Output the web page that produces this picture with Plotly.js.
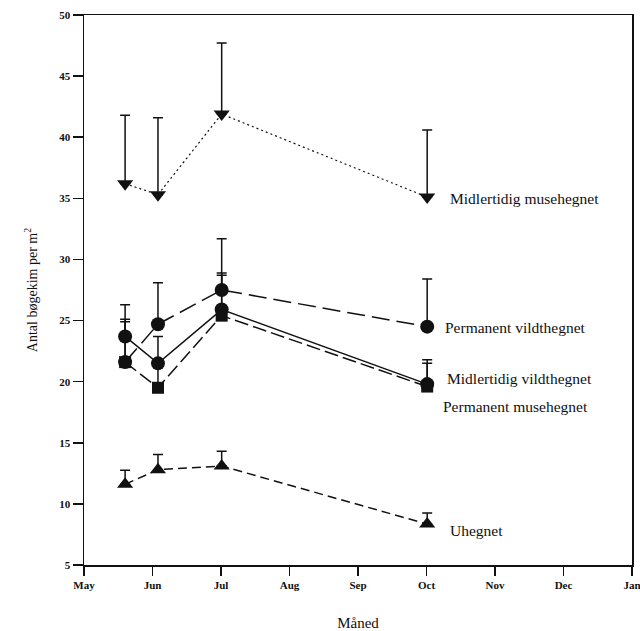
<!DOCTYPE html>
<html>
<head>
<meta charset="utf-8">
<script src="https://cdn.plot.ly/plotly-3.0.1.min.js"></script>
<style>
  html, body { margin: 0; padding: 0; background: #fff; }
  #chart { width: 640px; height: 631px; }
</style>
</head>
<body>
<div id="chart"></div>
<script>
// Month axis: 0 = May ... 8 = January
const monthLabels = ['May', 'Jun', 'Jul', 'Aug', 'Sep', 'Oct', 'Nov', 'Dec', 'Jan'];
const sampleMonth = [0.6, 1.08, 2.01, 5.01];

// Mean seedling counts per m² and upper standard error for each enclosure type
const midlMuse = [36.2, 35.3, 41.9, 35.1];
const midlMuseErr = [5.6, 6.3, 5.8, 5.5];

const permVildt = [21.6, 24.7, 27.5, 24.5];
const permVildtErr = [3.5, 3.4, 4.2, 3.9];

const midlVildt = [23.7, 21.5, 25.9, 19.8];
const midlVildtErr = [2.6, 2.2, 3.0, 2.0];

const permMuse = [21.6, 19.5, 25.4, 19.6];
const permMuseErr = [3.3, 2.0, 3.3, 1.9];

const uhegnet = [11.6, 12.8, 13.1, 8.35];
const uhegnetErr = [1.15, 1.25, 1.2, 0.9];

const seriesNames = [
  'Midlertidig musehegnet',
  'Permanent vildthegnet',
  'Midlertidig vildthegnet',
  'Permanent musehegnet',
  'Uhegnet'
];

const ink = '#111';
const serif = '"Liberation Serif", "Times New Roman", serif';

function series(name, y, err, symbol, size, dash, width) {
  return {
    type: 'scatter',
    mode: 'lines+markers',
    name: name,
    x: sampleMonth,
    y: y,
    line: { color: ink, width: width, dash: dash },
    marker: { symbol: symbol, size: size, color: ink, line: { width: 0 } },
    error_y: {
      type: 'data',
      symmetric: false,
      array: err,
      arrayminus: err.map(() => 0),
      color: ink,
      thickness: 1.5,
      width: 5
    },
    hoverinfo: 'x+y+name'
  };
}

const traces = [
  series(seriesNames[0], midlMuse, midlMuseErr, 'triangle-down', 14, '2px,3px', 1.2),
  series(seriesNames[1], permVildt, permVildtErr, 'circle', 14, '18px,7px', 1.5),
  series(seriesNames[2], midlVildt, midlVildtErr, 'circle', 14, 'solid', 1.5),
  series(seriesNames[3], permMuse, permMuseErr, 'square', 12, '14px,5px', 1.5),
  series(seriesNames[4], uhegnet, uhegnetErr, 'triangle-up', 14, '9px,5px', 1.5)
];

// Series labels placed to the right of the October points
const labelPos = [
  { x: 5.31, y: 34.95 },
  { x: 5.24, y: 24.4 },
  { x: 5.27, y: 20.3 },
  { x: 5.21, y: 18.0 },
  { x: 5.31, y: 7.8 }
];

const annotations = seriesNames.map((name, i) => ({
  x: labelPos[i].x,
  y: labelPos[i].y,
  xref: 'x',
  yref: 'y',
  text: name,
  showarrow: false,
  xanchor: 'left',
  yanchor: 'middle',
  font: { family: serif, size: 15.5, color: ink }
}));

const layout = {
  width: 640,
  height: 631,
  margin: { l: 84, r: 8, t: 15, b: 66 },
  paper_bgcolor: '#fff',
  plot_bgcolor: '#fff',
  showlegend: false,
  font: { family: serif, color: ink },
  xaxis: {
    range: [0, 8],
    tickvals: monthLabels.map((_, i) => i),
    ticktext: monthLabels,
    ticks: 'outside',
    ticklen: 9,
    tickwidth: 1.5,
    tickcolor: ink,
    ticklabeloverflow: 'allow',
    showline: true,
    mirror: true,
    linecolor: ink,
    linewidth: 1.5,
    showgrid: false,
    zeroline: false,
    tickfont: { family: serif, size: 11, color: ink, weight: 'bold' },
    title: { text: 'Måned', font: { family: serif, size: 15, color: ink }, standoff: 28 }
  },
  yaxis: {
    range: [5, 50],
    dtick: 5,
    tick0: 5,
    ticks: 'outside',
    ticklen: 10,
    tickwidth: 1.5,
    tickcolor: ink,
    showline: true,
    mirror: true,
    linecolor: ink,
    linewidth: 1.5,
    showgrid: false,
    zeroline: false,
    tickfont: { family: serif, size: 11, color: ink, weight: 'bold' },
    title: { text: 'Antal bøgekim per m<sup>2</sup>', font: { family: serif, size: 14, color: ink }, standoff: 18 }
  },
  annotations: annotations
};

Plotly.newPlot('chart', traces, layout, { displayModeBar: false, staticPlot: true });
</script>
</body>
</html>
